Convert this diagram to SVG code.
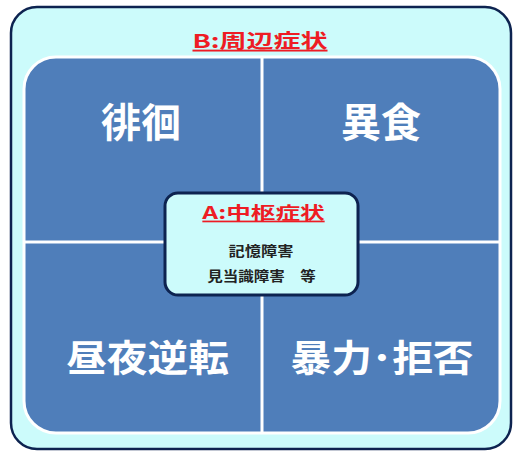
<svg xmlns="http://www.w3.org/2000/svg" width="514" height="452" viewBox="0 0 514 452">
<style>
.q{font-family:"Noto Sans CJK JP","Noto Sans CJK SC",sans-serif;font-weight:bold;fill:#ffffff;text-anchor:middle}
.t{font-family:"Noto Sans CJK JP","Noto Sans CJK SC",sans-serif;font-weight:bold;fill:#ee1c24;text-anchor:middle;text-decoration:underline}
.s{font-family:"Noto Sans CJK JP","Noto Sans CJK SC",sans-serif;font-weight:bold;font-size:13.5px;fill:#222222;text-anchor:middle}
</style>
<g id="outer">
<rect x="11" y="7" width="500" height="442" rx="26" fill="#ccfbfb" stroke="#0d2350" stroke-width="2.5"/>
<text class="t" transform="translate(260,48) scale(1.42,1)" font-size="19">B:周辺症状</text>
</g>
<g id="quadrants">
<rect x="24" y="57" width="476" height="376" rx="32" fill="#4f7eba" stroke="#ffffff" stroke-width="3"/>
</g>
<g id="connectors">
<line x1="262" y1="57" x2="262" y2="433" stroke="#ffffff" stroke-width="3"/>
<line x1="24" y1="242" x2="500" y2="242" stroke="#ffffff" stroke-width="3"/>
</g>
<g id="q1"><text class="q" x="141" y="137" font-size="40">徘徊</text></g>
<g id="q2"><text class="q" x="381" y="137" font-size="40">異食</text></g>
<g id="q3"><text class="q" transform="translate(147.5,372) scale(1.1,1)" font-size="37">昼夜逆転</text></g>
<g id="q4"><text class="q" transform="translate(382,372) scale(1.1,1)" font-size="37">暴力･拒否</text></g>
<g id="center">
<rect x="165" y="193" width="193" height="102" rx="13" fill="#ccfbfb" stroke="#0d2350" stroke-width="3"/>
<text class="t" transform="translate(263.5,219) scale(1.45,1)" font-size="17">A:中枢症状</text>
<text class="s" transform="translate(261,256) scale(1.2,1)">記憶障害</text>
<text class="s" transform="translate(261.5,281) scale(1.15,1)">見当識障害　等</text>
</g>
</svg>
